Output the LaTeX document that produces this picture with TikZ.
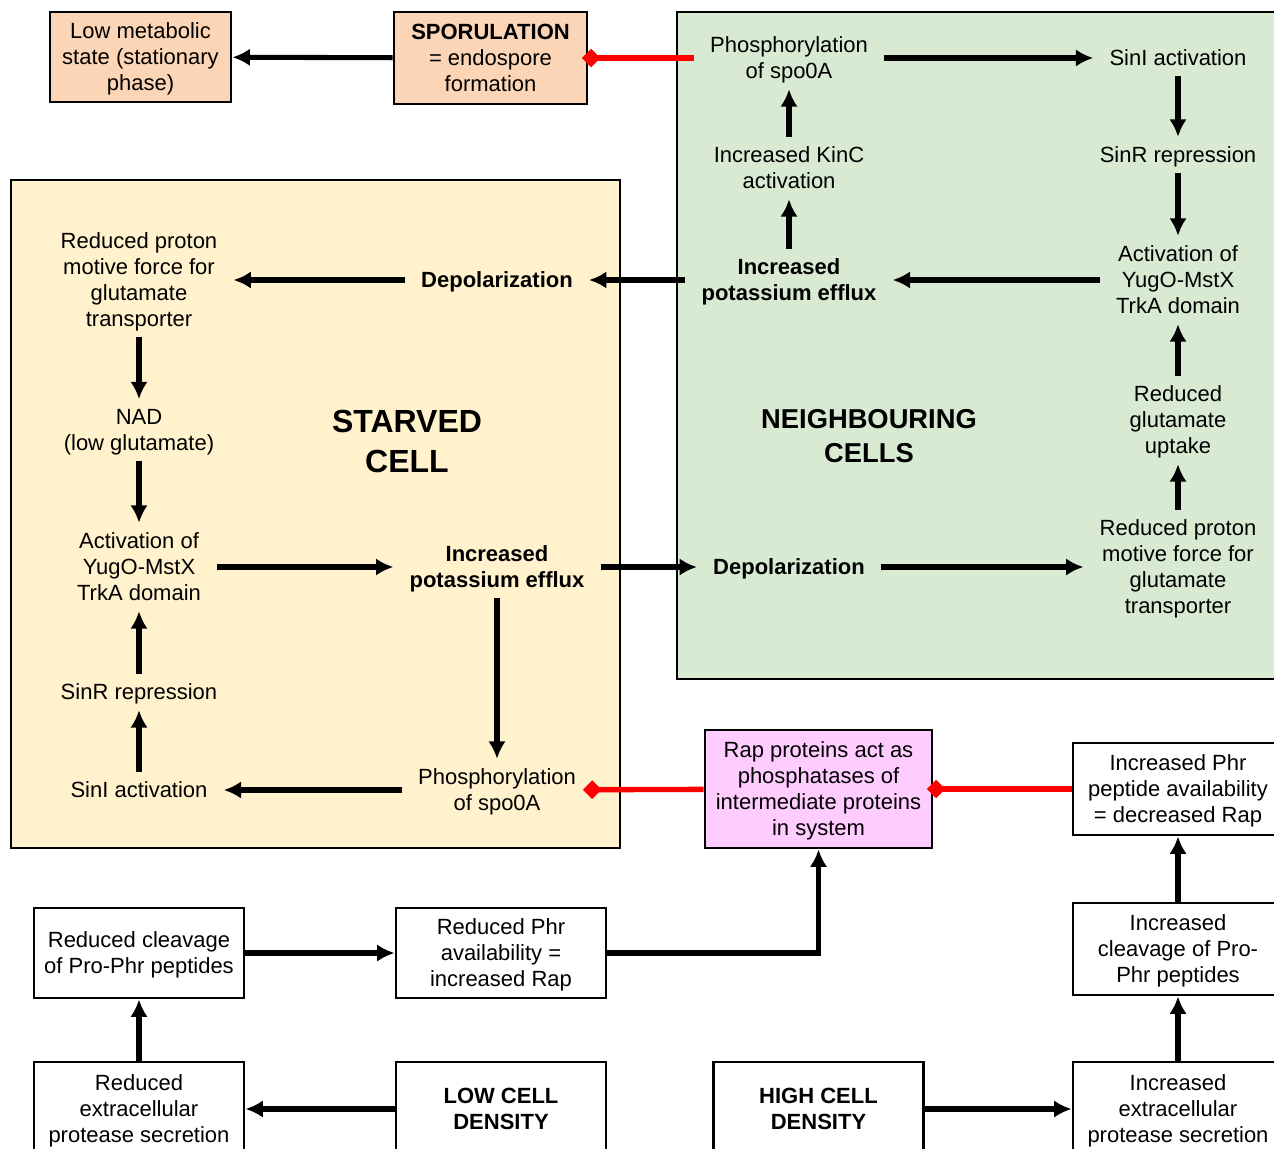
\documentclass[tikz,border=0pt]{standalone}
\usepackage{fontspec}
\setmainfont{Liberation Sans}
\usepackage{xcolor}
\usepackage{tikz}
\usetikzlibrary{arrows.meta}

\definecolor{peach}{RGB}{251,213,181}
\definecolor{starvedfill}{RGB}{255,242,204}
\definecolor{neighbourfill}{RGB}{217,234,211}
\definecolor{rappink}{RGB}{255,204,255}

\begin{document}
\begin{tikzpicture}[
		x=0.75pt, y=-0.75pt,
		txt/.style={align=center, inner xsep=12pt, inner ysep=7.5pt, text depth=0pt,
			font=\fontsize{16.5}{19.5}\selectfont},
		boldtxt/.style={txt, font=\fontsize{16.5}{19.5}\selectfont\bfseries},
		box/.style={txt, draw=black, line width=2.2pt, fill=white, inner sep=4pt,
			minimum width=157.5pt, minimum height=69pt},
		region/.style={draw=black, line width=2.2pt},
		flow/.style={-{Latex[length=13pt,width=13pt]}, line width=3.8pt},
		inhib/.style={-{Diamond[length=14pt,width=14pt]}, draw=red, line width=4pt}
	]
		\useasboundingbox (0,0) rectangle (1274,1149);

		% cells
		\draw[region, fill=starvedfill] (11,180) rectangle (620,848);
		\draw[region, fill=neighbourfill] (677,12) rectangle (1290,679);

		% top row
		\node[box, fill=peach, minimum width=135.75pt, minimum height=67.5pt]
		(lowmet) at (140.5,57) {Low metabolic\\state (stationary\\phase)};
		\node[box, fill=peach, minimum width=144.75pt]
		(spor) at (490.5,58) {\textbf{SPORULATION}\\= endospore\\formation};

		% neighbouring cells
		\node[txt] (phosG) at (789,58) {Phosphorylation\\of spo0A};
		\node[txt] (sinlG) at (1178,58) {SinI activation};
		\node[txt] (kincG) at (789,168) {Increased KinC\\activation};
		\node[txt] (sinrG) at (1178,155) {SinR repression};
		\node[boldtxt] (incKG) at (789,280) {Increased\\potassium efflux};
		\node[txt] (actG) at (1178,280) {Activation of\\YugO-MstX\\TrkA domain};
		\node[txt] (glutG) at (1178,420) {Reduced\\glutamate\\uptake};
		\node[txt] (redG) at (1178,567) {Reduced proton\\motive force for\\glutamate\\transporter};
		\node[boldtxt] (depG) at (789,567) {Depolarization};
		\node[align=center, font=\fontsize{20.5}{25}\selectfont\bfseries]
		(neighLbl) at (869,436) {NEIGHBOURING\\CELLS};

		% starved cell
		\node[txt] (redY) at (139,280) {Reduced proton\\motive force for\\glutamate\\transporter};
		\node[boldtxt] (depY) at (497,280) {Depolarization};
		\node[txt] (nadY) at (139,430) {NAD\\(low glutamate)};
		\node[txt] (actY) at (139,567) {Activation of\\YugO-MstX\\TrkA domain};
		\node[boldtxt] (incKY) at (497,567) {Increased\\potassium efflux};
		\node[txt] (sinrY) at (139,692) {SinR repression};
		\node[txt] (sinlY) at (139,790) {SinI activation};
		\node[txt] (phosY) at (497,790) {Phosphorylation\\of spo0A};
		\node[align=center, font=\fontsize{24}{30}\selectfont\bfseries]
		(starvedLbl) at (407,441) {STARVED\\CELL};

		% rap / phr system
		\node[box, fill=rappink, minimum width=170.25pt, minimum height=88.5pt]
		(rap) at (818.5,789) {Rap proteins act as\\phosphatases of\\intermediate proteins\\in system};
		\node[box] (phrR) at (1178,789) {Increased Phr\\peptide availability\\= decreased Rap};
		\node[box] (cleavR) at (1178,949) {Increased\\cleavage of Pro-\\Phr peptides};
		\node[box, minimum height=70.5pt] (extR) at (1178,1109) {Increased\\extracellular\\protease secretion};
		\node[box, minimum height=70.5pt, font=\fontsize{16.5}{19.5}\selectfont\bfseries]
		(high) at (818.5,1109) {HIGH CELL\\DENSITY};
		\node[box, minimum height=70.5pt, font=\fontsize{16.5}{19.5}\selectfont\bfseries]
		(low) at (501,1109) {LOW CELL\\DENSITY};
		\node[box, minimum height=70.5pt] (extL) at (139,1109) {Reduced\\extracellular\\protease secretion};
		\node[box, minimum height=67.5pt] (cleavL) at (139,953) {Reduced cleavage\\of Pro-Phr peptides};
		\node[box, minimum height=67.5pt] (phrL) at (501,953) {Reduced Phr\\availability =\\increased Rap};

		\draw[flow] (spor) -- (lowmet);
		\draw[inhib, shorten >=-5pt] (phosG) -- (spor);
		\draw[flow] (phosG) -- (sinlG);
		\draw[flow] (sinlG) -- (sinrG);
		\draw[flow] (sinrG) -- (actG);
		\draw[flow] (kincG) -- (phosG);
		\draw[flow] (incKG) -- (kincG);
		\draw[flow] (actG) -- (incKG);
		\draw[flow] (glutG) -- (actG);
		\draw[flow] (redG) -- (glutG);
		\draw[flow] (depG) -- (redG);
		\draw[flow] (incKG) -- (depY);
		\draw[flow] (depY) -- (redY);
		\draw[flow] (redY) -- (nadY);
		\draw[flow] (nadY) -- (actY);
		\draw[flow] (actY) -- (incKY);
		\draw[flow] (incKY) -- (depG);
		\draw[flow] (incKY) -- (phosY);
		\draw[flow] (phosY) -- (sinlY);
		\draw[flow] (sinlY) -- (sinrY);
		\draw[flow] (sinrY) -- (actY);
		\draw[inhib, shorten >=-7pt] (rap) -- (phosY);
		\draw[inhib, shorten >=-5pt] (phrR) -- (rap);
		\draw[flow] (phrL) -| (rap);
		\draw[flow] (cleavL) -- (phrL);
		\draw[flow] (extL) -- (cleavL);
		\draw[flow] (low) -- (extL);
		\draw[flow] (high) -- (extR);
		\draw[flow] (extR) -- (cleavR);
		\draw[flow] (cleavR) -- (phrR);
	\end{tikzpicture}
\end{document}
